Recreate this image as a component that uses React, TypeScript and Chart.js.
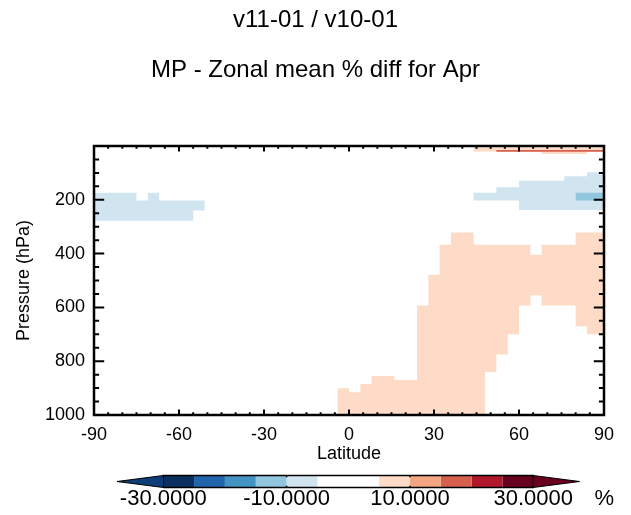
import React, { useEffect, useRef } from 'react';
import { Chart, registerables } from 'chart.js';

Chart.register(...registerables);

const FONT = "'Liberation Sans', Arial, Helvetica, sans-serif";

// ---------- text ----------
const titleText = 'v11-01 / v10-01';
const subtitleText = 'MP - Zonal mean % diff for Apr';
const xTitle = 'Latitude';
const yTitle = 'Pressure (hPa)';
const unitLabel = '%';

// ---------- axes ----------
const latTicks = [-90, -60, -30, 0, 30, 60, 90];
const latMinorStep = 5;
const pressureTicks = [200, 400, 600, 800, 1000];
const pressureMinorStep = 50;

// ---------- colours (levels of the colour bar) ----------
const cbLevels = [-30, -25, -20, -15, -10, -5, 0, 5, 10, 15, 20, 25, 30];
const cbColors = ['#0B2F5E', '#2166AC', '#4393C3', '#92C5DE', '#D1E5F0', '#FFFFFF', '#FFFFFF', '#FDDBC7', '#F4A582', '#D6604D', '#B2182B', '#67001F'];
const cbLowColor = '#0E3D78';
const cbHighColor = '#6A0020';
const cbLabelTicks = [-30, -10, 10, 30];
const cbExtend = 7.5;

// ---------- field: latitude bin edges, top / bottom pressure per bin ----------
// light blue (-10 .. -5 %), southern high latitudes
const sBlueEdges = [-90, -75, -71, -67, -55, -51];
const sBlueTop = [174, 203, 174, 203, 203];
const sBlueBottom = [278, 278, 278, 278, 240];
// light blue (-10 .. -5 %), northern high latitudes
const nBlueEdges = [44, 52, 60, 76, 84, 90];
const nBlueTop = [174, 153, 129, 112, 98];
const nBlueBottom = [203, 203, 238, 238, 238];
// mid blue (-15 .. -10 %)
const midBlueEdges = [80, 90];
const midBlueTop = [174];
const midBlueBottom = [203];
// pink (5 .. 10 %), lower troposphere
const pinkEdges = [-4, 0, 4, 8, 16, 24, 28, 32, 36, 44, 48, 52, 56, 60, 64, 68, 80, 84, 90];
const pinkTop = [901, 915, 885, 855, 870, 593, 479, 367, 322, 367, 367, 367, 367, 367, 404, 367, 322, 322];
const pinkBottom = [1000, 1000, 1000, 1000, 1000, 1000, 1000, 1000, 1000, 1000, 840, 775, 700, 593, 556, 593, 670, 700];
// pink strip near model top
const topPinkEdges = [44, 68, 84, 90];
const topPinkTop = [6, 6, 6];
const topPinkBottom = [20, 30, 20];
// red strip near model top (15 .. 20 %)
const topRedEdges = [52, 90];
const topRedTop = [15];
const topRedBottom = [21];

function polygon(edges: number[], tops: number[], bottoms: number[]) {
  const pts: { x: number; y: number }[] = [];
  for (let i = 0; i < tops.length; i++) {
    pts.push({ x: edges[i], y: tops[i] }, { x: edges[i + 1], y: tops[i] });
  }
  for (let i = bottoms.length - 1; i >= 0; i--) {
    pts.push({ x: edges[i + 1], y: bottoms[i] }, { x: edges[i], y: bottoms[i] });
  }
  return pts;
}

function region(pts: { x: number; y: number }[], color: string) {
  return {
    data: pts,
    fill: 'shape',
    backgroundColor: color,
    borderWidth: 0,
    pointRadius: 0,
    tension: 0,
  };
}

const framePlugin = {
  id: 'idlFrame',
  afterDatasetsDraw(chart: any) {
    const { ctx, chartArea, scales } = chart;
    const { left, right, top, bottom } = chartArea;
    const x = scales.x;
    const y = scales.y;
    const w = right - left;
    const h = bottom - top;
    ctx.save();
    ctx.strokeStyle = '#000';
    ctx.lineWidth = 2;
    const xMaj = h * 0.02, xMin = h * 0.01;
    for (let v = x.min; v <= x.max; v += latMinorStep) {
      const px = x.getPixelForValue(v);
      const len = latTicks.includes(v) ? xMaj : xMin;
      ctx.beginPath();
      ctx.moveTo(px, bottom); ctx.lineTo(px, bottom - len);
      ctx.moveTo(px, top); ctx.lineTo(px, top + len);
      ctx.stroke();
    }
    const yMaj = w * 0.02, yMin = w * 0.01;
    for (let v = y.min; v <= y.max; v += pressureMinorStep) {
      const py = y.getPixelForValue(v);
      const len = v % 200 === 0 ? yMaj : yMin;
      ctx.beginPath();
      ctx.moveTo(left, py); ctx.lineTo(left + len, py);
      ctx.moveTo(right, py); ctx.lineTo(right - len, py);
      ctx.stroke();
    }
    ctx.lineWidth = 2.5;
    ctx.strokeRect(left, top, w, h);
    ctx.restore();
  },
};

function mainConfig(): any {
  return {
    type: 'line',
    data: {
      datasets: [
        region(polygon(midBlueEdges, midBlueTop, midBlueBottom), cbColors[3]),
        region(polygon(topRedEdges, topRedTop, topRedBottom), cbColors[9]),
        region(polygon(topPinkEdges, topPinkTop, topPinkBottom), cbColors[7]),
        region(polygon(sBlueEdges, sBlueTop, sBlueBottom), cbColors[4]),
        region(polygon(nBlueEdges, nBlueTop, nBlueBottom), cbColors[4]),
        region(polygon(pinkEdges, pinkTop, pinkBottom), cbColors[7]),
      ],
    },
    options: {
      responsive: false,
      animation: false,
      events: [],
      layout: { padding: { left: 27, right: 27, top: 0, bottom: 50 } },
      plugins: {
        legend: { display: false },
        tooltip: { enabled: false },
        title: {
          display: true,
          text: titleText,
          color: '#000',
          font: { family: FONT, size: 24, weight: 'normal', lineHeight: 1.2 },
          padding: { top: 5.6, bottom: 21.2 },
        },
        subtitle: {
          display: true,
          text: subtitleText,
          color: '#000',
          font: { family: FONT, size: 24, weight: 'normal', lineHeight: 1.2 },
          padding: { top: 0, bottom: 61.6 },
        },
      },
      scales: {
        x: {
          type: 'linear',
          min: -90,
          max: 90,
          grid: { display: false, drawTicks: false },
          border: { display: false },
          ticks: {
            color: '#000', font: { family: FONT, size: 18 }, padding: 9, autoSkip: false, maxRotation: 0,
            callback: (v: number) => String(v),
          },
          afterBuildTicks: (s: any) => { s.ticks = latTicks.map((v) => ({ value: v })); },
          afterFit: (s: any) => { s.height = 50; },
          title: { display: true, text: xTitle, color: '#000', font: { family: FONT, size: 18 }, padding: { top: 0, bottom: 0 } },
        },
        y: {
          type: 'linear',
          min: 0,
          max: 1000,
          reverse: true,
          grid: { display: false, drawTicks: false },
          border: { display: false },
          ticks: {
            color: '#000', font: { family: FONT, size: 18 }, padding: 9, autoSkip: false,
            callback: (v: number) => String(v),
          },
          afterBuildTicks: (s: any) => { s.ticks = pressureTicks.map((v) => ({ value: v })); },
          afterFit: (s: any) => { s.width = 67; },
          title: { display: true, text: yTitle, color: '#000', font: { family: FONT, size: 18 }, padding: { top: -13.5, bottom: 0 } },
        },
      },
    },
    plugins: [framePlugin],
  };
}

function colorbarConfig(): any {
  const datasets: any[] = [];
  for (let i = 0; i < cbColors.length; i++) {
    datasets.push({
      data: [
        { x: cbLevels[i], y: 0 }, { x: cbLevels[i + 1], y: 0 },
        { x: cbLevels[i + 1], y: 1 }, { x: cbLevels[i], y: 1 },
      ],
      fill: 'shape', backgroundColor: cbColors[i], borderWidth: 0, pointRadius: 0, clip: false,
    });
  }
  const lo = cbLevels[0];
  const hi = cbLevels[cbLevels.length - 1];
  datasets.unshift(
    {
      data: [{ x: lo, y: 0 }, { x: lo - cbExtend, y: 0.5 }, { x: lo, y: 1 }],
      fill: 'shape', backgroundColor: cbLowColor, borderColor: '#000', borderWidth: 1, pointRadius: 0, clip: false,
    },
    {
      data: [{ x: hi, y: 0 }, { x: hi + cbExtend, y: 0.5 }, { x: hi, y: 1 }],
      fill: 'shape', backgroundColor: cbHighColor, borderColor: '#000', borderWidth: 1, pointRadius: 0, clip: false,
    },
    {
      data: [{ x: lo, y: 0 }, { x: hi, y: 0 }, { x: hi, y: 1 }, { x: lo, y: 1 }, { x: lo, y: 0 }],
      fill: false, borderColor: '#000', borderWidth: 1.5, pointRadius: 0, clip: false,
    },
  );
  for (const t of cbLabelTicks) {
    datasets.unshift(
      { data: [{ x: t, y: 0 }, { x: t, y: 0.15 }], fill: false, borderColor: '#000', borderWidth: 1.5, pointRadius: 0, clip: false },
      { data: [{ x: t, y: 0.85 }, { x: t, y: 1 }], fill: false, borderColor: '#000', borderWidth: 1.5, pointRadius: 0, clip: false },
    );
  }
  const unitPos = hi + 11.5;
  return {
    type: 'line',
    data: { datasets },
    options: {
      responsive: false,
      animation: false,
      events: [],
      layout: { padding: { left: 117, right: 631 - 117 - (unitPos + 37.5) * (462.5 / 75), top: 20.5, bottom: 0 } },
      plugins: { legend: { display: false }, tooltip: { enabled: false } },
      scales: {
        x: {
          type: 'linear',
          min: lo - cbExtend,
          max: unitPos,
          grid: { display: false, drawTicks: false },
          border: { display: false },
          ticks: {
            color: '#000',
            font: { family: FONT, size: 22, lineHeight: 1 },
            padding: 0,
            autoSkip: false,
            maxRotation: 0,
            callback: (v: number) => (v === unitPos ? unitLabel : v.toFixed(4)),
          },
          afterBuildTicks: (s: any) => { s.ticks = [...cbLabelTicks, unitPos].map((v) => ({ value: v })); },
          afterFit: (s: any) => { s.height = 27.5; },
        },
        y: { type: 'linear', min: 0, max: 1, display: false },
      },
    },
  };
}

export default function App() {
  const mainRef = useRef<HTMLCanvasElement>(null);
  const barRef = useRef<HTMLCanvasElement>(null);
  useEffect(() => {
    document.body.style.margin = '0';
    const c1 = new Chart(mainRef.current as HTMLCanvasElement, mainConfig());
    const c2 = new Chart(barRef.current as HTMLCanvasElement, colorbarConfig());
    return () => {
      c1.destroy();
      c2.destroy();
    };
  }, []);
  return (
    <div style={{ position: 'relative', width: 631, height: 515, background: '#fff' }}>
      <canvas ref={mainRef} width={631} height={515} style={{ position: 'absolute', left: 0, top: 0 }} />
      <canvas ref={barRef} width={631} height={60} style={{ position: 'absolute', left: 0, top: 455 }} />
    </div>
  );
}
